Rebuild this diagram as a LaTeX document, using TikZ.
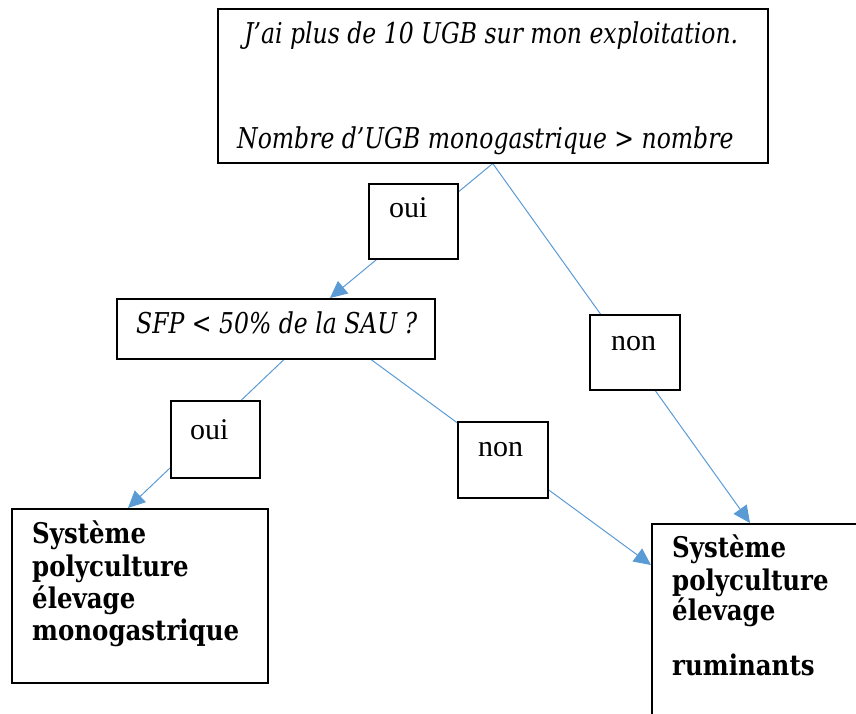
\documentclass[tikz,border=0pt]{standalone}
\usepackage{fontspec}
\setmainfont{DejaVu Serif}
\newfontfamily\itfam{DejaVu Serif}[FakeStretch=0.82]
\newfontfamily\bffam{DejaVu Serif}[FakeStretch=0.86]
\newfontfamily\labfont{Liberation Serif}
\usetikzlibrary{arrows.meta,calc}
\definecolor{arrblue}{HTML}{5B9BD5}
\pgfdeclarelayer{bg}
\pgfsetlayers{bg,main}
\newlength\fitlen
\newcommand\fitsize[3]{%
  \settowidth\fitlen{#1\fontsize{10pt}{12pt}\selectfont #3}%
  \pgfmathsetmacro\fitfs{10*#2/\fitlen}}
\AtBeginDocument{%
  \fitsize{\itfam\itshape}{494}{J’ai plus de 10 UGB sur mon exploitation.}%
  \global\let\italfs\fitfs
  \fitsize{\bffam\bfseries}{207}{monogastrique}%
  \global\let\boldfs\fitfs}
\begin{document}
\begin{tikzpicture}[x=1pt,y=-1pt,
  box/.style={draw=black,line width=1.5pt,fill=white,anchor=north west,inner sep=0pt},
  conn/.style={draw=arrblue,line width=1pt,-{Triangle[length=17pt,width=16pt]}},
  txt/.style={anchor=base west,inner sep=0pt},
  itxt/.style={txt,font=\itfam\itshape\fontsize{\italfs pt}{30pt}\selectfont},
  btxt/.style={txt,font=\bffam\bfseries\fontsize{\boldfs pt}{30pt}\selectfont},
  ltxt/.style={txt,font=\labfont\fontsize{30pt}{34pt}\selectfont}]
\clip (0,0) rectangle (856,713);
\useasboundingbox (0,0) rectangle (856,713);
% boxes
\node[box,minimum width=550pt,minimum height=154pt] (top) at (217,8) {};
\node[box,minimum width=89pt,minimum height=75pt] (oui1) at (368,183) {};
\node[box,minimum width=318pt,minimum height=60pt] (sfp) at (116,298) {};
\node[box,minimum width=90pt,minimum height=75pt] (non1) at (589,314) {};
\node[box,minimum width=89pt,minimum height=77pt] (oui2) at (170,400) {};
\node[box,minimum width=90pt,minimum height=76pt] (non2) at (457,421) {};
\node[box,minimum width=256pt,minimum height=174pt] (lbox) at (11,508) {};
\node[box,minimum width=240pt,minimum height=230pt] (rbox) at (651,523) {};
% texts
\node[itxt] (t1) at (244,43) {J’ai plus de 10 UGB sur mon exploitation.};
\node[itxt] (t2) at (237,148) {Nombre d’UGB monogastrique > nombre};
\node[itxt] (t3) at (136,333) {SFP < 50\% de la SAU ?};
\node[ltxt] (l1) at (389,217) {oui};
\node[ltxt] (l2) at (611,350) {non};
\node[ltxt] (l3) at (190,439) {oui};
\node[ltxt] (l4) at (478,456) {non};
\node[btxt] (b1) at (32,543) {Système};
\node[btxt] (b2) at (32,576) {polyculture};
\node[btxt] (b3) at (32,608) {élevage};
\node[btxt] (b4) at (32,640) {monogastrique};
\node[btxt] (r1) at (672,557) {Système};
\node[btxt] (r2) at (672,590) {polyculture};
\node[btxt] (r3) at (672,620) {élevage};
\node[btxt] (r4) at (672,675) {ruminants};
% connectors
\coordinate (e1) at ($(sfp.north west)+(214,0)$);
\coordinate (e2) at ($(rbox.north west)+(99,0)$);
\coordinate (s3) at ($(sfp.south west)+(168,0)$);
\coordinate (e3) at ($(lbox.north west)+(117,0)$);
\coordinate (s4) at ($(sfp.south west)+(255,0)$);
\coordinate (e4) at ($(rbox.north west)+(0,42)$);
\begin{pgfonlayer}{bg}
\draw[conn] (top.south) -- (e1);
\draw[conn] (top.south) -- (e2);
\draw[conn] (s3) -- (e3);
\draw[conn] (s4) -- (e4);
\end{pgfonlayer}
\end{tikzpicture}
\end{document}
